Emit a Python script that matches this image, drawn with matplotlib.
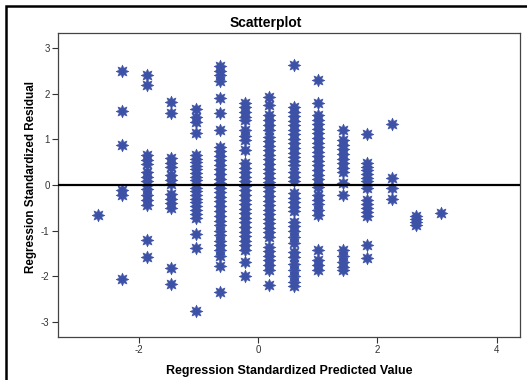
import matplotlib.pyplot as plt
import numpy as np
from matplotlib.path import Path
from matplotlib.patches import Rectangle

plt.rcParams["font.family"] = ["Liberation Sans", "DejaVu Sans"]
plt.rcParams["axes.unicode_minus"] = False

pred_levels = [-2.68, -2.27, -1.86, -1.45, -1.04, -0.63, -0.22, 0.19,
               0.60, 1.01, 1.42, 1.83, 2.24, 2.65, 3.06]

res_c01 = [-0.66]
res_c02 = [2.50, 1.62, 0.88, -0.12, -0.22, -2.06]
res_c03 = [2.42, 2.19, 0.66, 0.55, 0.46, 0.29, 0.18, 0.08, 0.0, -0.08,
           -0.22, -0.33, -0.44, -1.20, -1.57]
res_c04 = [1.82, 1.58, 0.59, 0.48, 0.40, 0.22, 0.12, 0.02, -0.20, -0.30,
           -0.40, -0.50, -1.81, -2.17]
res_c05 = [1.66, 1.49, 1.38, 1.13, 0.66, 0.58, 0.50, 0.42, 0.34, 0.26,
           0.18, 0.10, 0.02, -0.06, -0.14, -0.22, -0.30, -0.38, -0.46,
           -0.55, -0.64, -0.72, -1.07, -1.37, -2.77]
res_c06 = [2.60, 2.50, 2.40, 2.28, 1.90, 1.57, 1.20, 0.84, 0.74, 0.64,
           0.54, 0.44, 0.34, 0.24, 0.14, 0.04, -0.06, -0.16, -0.26, -0.36,
           -0.46, -0.56, -0.68, -0.78, -0.88, -1.00, -1.10, -1.22, -1.32,
           -1.42, -1.55, -1.78, -2.34]
res_c07 = [1.79, 1.70, 1.60, 1.50, 1.42, 1.20, 1.08, 0.98, 0.77, 0.48,
           0.38, 0.28, 0.18, 0.08, -0.02, -0.12, -0.22, -0.32, -0.42,
           -0.52, -0.62, -0.72, -0.82, -0.92, -1.02, -1.12, -1.22, -1.32,
           -1.42, -1.68, -1.99]
res_c08 = [1.93, 1.75, 1.53, 1.42, 1.32, 1.20, 1.06, 0.96, 0.86, 0.76,
           0.66, 0.56, 0.46, 0.36, 0.26, 0.16, 0.06, -0.04, -0.14, -0.24,
           -0.34, -0.44, -0.54, -0.64, -0.74, -0.84, -0.94, -1.04, -1.13,
           -1.35, -1.45, -1.55, -1.65, -1.75, -1.86, -2.19]
res_c09 = [2.63, 1.71, 1.61, 1.51, 1.41, 1.31, 1.21, 1.11, 1.01, 0.91,
           0.81, 0.71, 0.61, 0.52, 0.44, 0.29, 0.18, 0.08, -0.18, -0.28,
           -0.38, -0.48, -0.58, -0.80, -0.90, -1.00, -1.13, -1.27, -1.46,
           -1.58, -1.72, -1.86, -2.00, -2.12, -2.22]
res_c10 = [2.31, 1.79, 1.53, 1.43, 1.33, 1.23, 1.13, 1.03, 0.93, 0.83,
           0.73, 0.63, 0.53, 0.43, 0.33, 0.23, 0.13, 0.03, -0.04, -0.22,
           -0.32, -0.42, -0.54, -0.66, -1.42, -1.64, -1.76, -1.86]
res_c11 = [1.20, 0.98, 0.88, 0.78, 0.68, 0.58, 0.48, 0.38, 0.29, 0.04,
           -0.22, -1.42, -1.55, -1.68, -1.80, -1.86]
res_c12 = [1.12, 0.48, 0.40, 0.32, 0.24, 0.16, 0.08, 0.0, -0.07, -0.33,
           -0.42, -0.51, -0.60, -0.69, -1.31, -1.60]
res_c13 = [1.33, 0.15, -0.07, -0.31]
res_c14 = [-0.68, -0.75, -0.82, -0.88]
res_c15 = [-0.62]

columns = [res_c01, res_c02, res_c03, res_c04, res_c05, res_c06, res_c07,
           res_c08, res_c09, res_c10, res_c11, res_c12, res_c13, res_c14,
           res_c15]

x_ticks = [-2, 0, 2, 4]
y_ticks = [-3, -2, -1, 0, 1, 2, 3]

predicted = np.concatenate([[p] * len(c) for p, c in zip(pred_levels, columns)])
residual = np.concatenate(columns)

# 8-pointed star like the SPSS marker
star = Path.unit_regular_star(8, 0.55)

fig = plt.figure(figsize=(5.27, 3.8), dpi=100)

# outer chart frame (only left and top visible in the cropped screenshot)
fig.patches.append(Rectangle((6 / 527, -0.1), 1.2, 1.1 - 6 / 380,
                             transform=fig.transFigure, fill=False,
                             edgecolor="black", linewidth=1.8))

ax = fig.add_axes([58 / 527, 43 / 380, 462 / 527, 304 / 380])
ax.scatter(predicted, residual, marker=star, s=85, color="#3D52A6",
           edgecolors="#3D52A6", linewidths=0.4, zorder=3)
ax.axhline(0, color="black", linewidth=1.6, zorder=4)

ax.set_xlim(-3.35, 4.39)
ax.set_ylim(-3.33, 3.33)
ax.set_xticks(x_ticks)
ax.set_yticks(y_ticks)
ax.tick_params(labelsize=7, labelcolor="#333333", length=4, width=0.8,
               color="#333333", pad=2)
for sp in ax.spines.values():
    sp.set_color("#444444")
    sp.set_linewidth(0.9)

ax.set_xlabel("Regression Standardized Predicted Value", fontsize=9,
              fontweight="bold")
ax.set_ylabel("Regression Standardized Residual", fontsize=8.4,
              fontweight="bold")
ax.xaxis.set_label_coords(0.5, -0.092)
ax.yaxis.set_label_coords(-0.046, 0.526)
fig.text(0.505, 1 - 23 / 380, "Scatterplot", ha="center", va="center",
         fontsize=10, fontweight="bold")

plt.savefig("out.png", dpi=100)
plt.close()
